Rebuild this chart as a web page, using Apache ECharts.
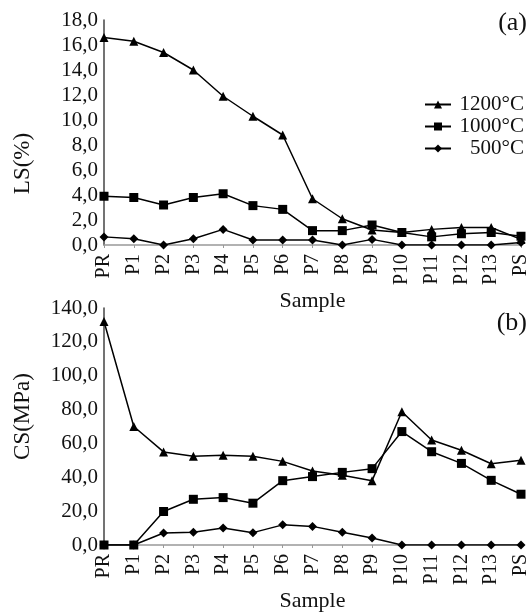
<!DOCTYPE html>
<html>
<head>
<meta charset="utf-8">
<script src="https://cdn.jsdelivr.net/npm/echarts@6/dist/echarts.min.js"></script>
<style>
  html, body { margin: 0; padding: 0; background: #fff; }
  #main { width: 531px; height: 613px; }
</style>
</head>
<body>
<div id="main"></div>
<script>
// sample names along x
var samples = ['PR', 'P1', 'P2', 'P3', 'P4', 'P5', 'P6', 'P7', 'P8', 'P9', 'P10', 'P11', 'P12', 'P13', 'PS'];
var seriesNames = ['1200°C', '1000°C', '500°C'];

// (a) linear shrinkage LS(%)
var ls1200 = [16.6, 16.3, 15.4, 14.0, 11.9, 10.3, 8.8, 3.7, 2.1, 1.2, 1.0, 1.25, 1.4, 1.4, 0.45];
var ls1000 = [3.9, 3.8, 3.2, 3.8, 4.1, 3.15, 2.85, 1.15, 1.15, 1.6, 1.0, 0.65, 0.9, 1.0, 0.7];
var ls500 = [0.65, 0.5, 0.0, 0.5, 1.25, 0.4, 0.4, 0.4, 0.0, 0.45, 0.0, 0.0, 0.0, 0.0, 0.2];

// (b) compressive strength CS(MPa)
var cs1200 = [132, 70, 55, 52.4, 53, 52.4, 49.4, 43.7, 41.2, 38, 78.7, 62, 56, 48, 50];
var cs1000 = [0, 0, 19.8, 27, 28, 24.7, 38, 40.4, 42.9, 45.1, 67, 55.1, 48.2, 38.2, 30];
var cs500 = [0, 0, 7.1, 7.6, 10, 7.3, 11.9, 11, 7.5, 4.1, 0, 0, 0, 0, 0];

var symbols = ['triangle', 'rect', 'diamond'];
var symbolSizes = [9, 9, 9];
var serif = '"Liberation Serif", "DejaVu Serif", serif';

function fmt(v) { return v.toFixed(1).replace('.', ','); }

function xAxisFor(gridIndex) {
  return {
    type: 'category', gridIndex: gridIndex, data: samples, boundaryGap: false,
    axisLine: { lineStyle: { color: '#999', width: 1.5 } },
    axisTick: { show: true, alignWithLabel: true, length: 3, lineStyle: { color: '#999' } },
    axisLabel: { rotate: 90, interval: 0, margin: 9, color: '#111', fontFamily: serif, fontSize: 20 },
    name: 'Sample', nameLocation: 'middle', nameGap: 45,
    nameTextStyle: { color: '#111', fontFamily: serif, fontSize: 22 }
  };
}

function yAxisFor(gridIndex, max, interval, name, pad) {
  return {
    type: 'value', gridIndex: gridIndex, min: 0, max: max, interval: interval,
    splitLine: { show: false },
    axisLine: { show: true, lineStyle: { color: '#444', width: 1.5 } },
    axisTick: { show: false },
    axisLabel: { margin: 6, color: '#111', fontFamily: serif, fontSize: 21, formatter: fmt },
    name: name, nameLocation: 'middle', nameGap: 70, nameRotate: 90,
    nameTextStyle: { color: '#111', fontFamily: serif, fontSize: 23, padding: pad }
  };
}

function makeSeries(name, idx, data, axisIndex) {
  return {
    name: name, type: 'line', data: data,
    xAxisIndex: axisIndex, yAxisIndex: axisIndex,
    symbol: symbols[idx], symbolSize: symbolSizes[idx], showAllSymbol: true,
    lineStyle: { color: '#000', width: 1.5 },
    itemStyle: { color: '#000' },
    z: 3 - idx
  };
}

var chart = echarts.init(document.getElementById('main'));
chart.setOption({
  animation: false,
  backgroundColor: '#fff',
  grid: [
    { left: 104, right: 5, top: 20, height: 225 },
    { left: 104, right: 5, top: 308, height: 238 }
  ],
  legend: {
    data: seriesNames, orient: 'vertical', right: 2, top: 89,
    itemWidth: 26, itemHeight: 10, itemGap: 1,
    formatter: '{r|{name}}',
    textStyle: {
      color: '#111', fontFamily: serif, fontSize: 21,
      rich: { r: { width: 68, align: 'right', fontFamily: serif, fontSize: 21, color: '#111' } }
    }
  },
  graphic: [
    { type: 'text', right: 4, top: 10, style: { text: '(a)', font: '26px ' + serif, fill: '#111' } },
    { type: 'text', right: 4, top: 310, style: { text: '(b)', font: '26px ' + serif, fill: '#111' } }
  ],
  xAxis: [xAxisFor(0), xAxisFor(1)],
  yAxis: [
    yAxisFor(0, 18, 2, 'LS(%)', [0, 62, 0, 0]),
    yAxisFor(1, 140, 20, 'CS(MPa)', [0, 0, 0, 20])
  ],
  series: [
    makeSeries(seriesNames[0], 0, ls1200, 0),
    makeSeries(seriesNames[1], 1, ls1000, 0),
    makeSeries(seriesNames[2], 2, ls500, 0),
    makeSeries(seriesNames[0], 0, cs1200, 1),
    makeSeries(seriesNames[1], 1, cs1000, 1),
    makeSeries(seriesNames[2], 2, cs500, 1)
  ]
});
</script>
</body>
</html>
